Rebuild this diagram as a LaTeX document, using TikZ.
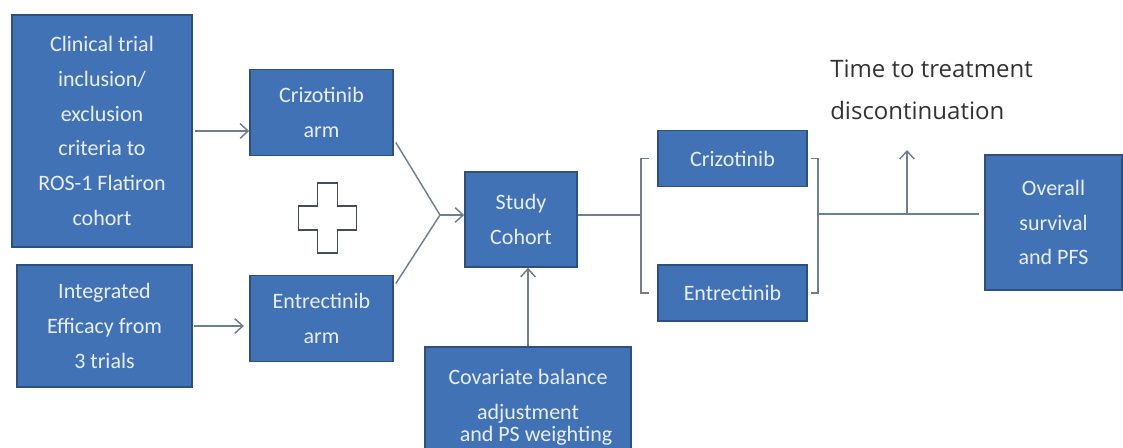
\documentclass[tikz,border=0pt]{standalone}
\usepackage{fontspec}
\setmainfont{Carlito}
\newfontfamily\labelfont{Open Sans}
\usepackage{tikz}
\usetikzlibrary{calc, positioning, arrows.meta}

\definecolor{boxfill}{RGB}{66,114,182}
\definecolor{boxline}{RGB}{46,80,124}
\definecolor{boxtext}{RGB}{232,238,246}
\definecolor{conn}{RGB}{112,126,146}
\definecolor{plusline}{RGB}{70,76,86}

\tikzset{
    flowbox/.style={draw=boxline, fill=boxfill, line width=1.2pt, text=boxtext, align=center, inner sep=0pt,
        font=\fontsize{16.5}{26}\selectfont},
    conline/.style={draw=conn, line width=1.1pt}
}

\begin{document}
\begin{tikzpicture}[x=0.75pt, y=-0.75pt, >={Straight Barb[length=6pt, width=11pt]}]
    \useasboundingbox (0,0) rectangle (1123,448);

    % left column
    \node[flowbox, minimum width=135pt, minimum height=174pt] at (102, 131) (crit) {Clinical trial\\inclusion/\\exclusion\\criteria to\\ROS-1 Flatiron\\cohort};
    \node[flowbox, minimum width=131.25pt, minimum height=91.5pt] at (104.5, 326) (integ) {Integrated\\Efficacy from\\3 trials};

    % arms
    \node[flowbox, minimum width=107.25pt, minimum height=64.5pt] at (321.5, 112.5) (crizarm) {Crizotinib\\arm};
    \node[flowbox, minimum width=107.25pt, minimum height=64.5pt] at (321.5, 318.5) (entrarm) {Entrectinib\\arm};

    \coordinate (plus) at (327.5, 218);
    \draw[draw=plusline, fill=white, line width=1.4pt] (plus) ++(-10,-35) -- ++(20,0) -- ++(0,23) -- ++(19,0) -- ++(0,24) -- ++(-19,0) -- ++(0,23) -- ++(-20,0) -- ++(0,-23) -- ++(-19,0) -- ++(0,-24) -- ++(19,0) -- cycle;

    % study cohort
    \node[flowbox, minimum width=84pt, minimum height=71.25pt] at (521, 219.5) (cohort) {Study\\Cohort};
    \node[flowbox, minimum width=154.5pt, minimum height=90.75pt] at (528, 407.5) (covar) {Covariate balance\\adjustment\\[-9pt]\hspace*{12pt}and PS weighting};

    % treatment boxes
    \node[flowbox, minimum width=111.75pt, minimum height=42pt] at (732.5, 158.5) (criz) {Crizotinib};
    \node[flowbox, minimum width=111.75pt, minimum height=42pt] at (732.5, 293) (entr) {Entrectinib};

    \node[flowbox, minimum width=102.75pt, minimum height=101.25pt] at (1053.5, 222.5) (os) {Overall\\survival\\and PFS};

    \node[anchor=north west, inner sep=0pt, align=left, text=black!80, font=\labelfont\fontsize{18}{31}\selectfont] at (830, 60) (ttd) {Time to treatment\\discontinuation};

    % connectors
    \draw[conline, ->] ([xshift=2pt]crit.east) -- (crit.east -| crizarm.west);
    \draw[conline, ->, shorten >=4pt] ([xshift=1pt]integ.east) -- (integ.east -| entrarm.west);

    \coordinate (apex) at (440, 215);
    \draw[conline] ($(crizarm.east)+(2,30)$) -- (apex) -- ($(entrarm.east)+(2,-35)$);
    \draw[conline, ->] (apex) -- (apex -| cohort.west);
    \draw[conline, ->] (covar.north) -- (covar.north |- cohort.south);

    \coordinate (lbr) at ($(criz.west)!0.5!(entr.west)+(-16,0)$);
    \draw[conline] ($(criz.west)+(-8,0)$) -- ($(criz.west)+(-16,0)$) -- ($(entr.west)+(-16,0)$) -- ($(entr.west)+(-8,0)$);
    \draw[conline] (cohort.east |- apex) -- (lbr |- apex);

    \draw[conline] ($(criz.east)+(3,0)$) -- ($(criz.east)+(10,0)$) -- ($(entr.east)+(10,0)$) -- ($(entr.east)+(3,0)$);
    \coordinate (rbr) at ($(criz.east)+(10,55.5)$);
    \draw[conline] (rbr) -- ($(rbr -| os.west)+(-5,0)$);

    \coordinate (tick) at (907, 214);
    \draw[conline, ->] (tick) -- ++(0,-64);
\end{tikzpicture}
\end{document}
